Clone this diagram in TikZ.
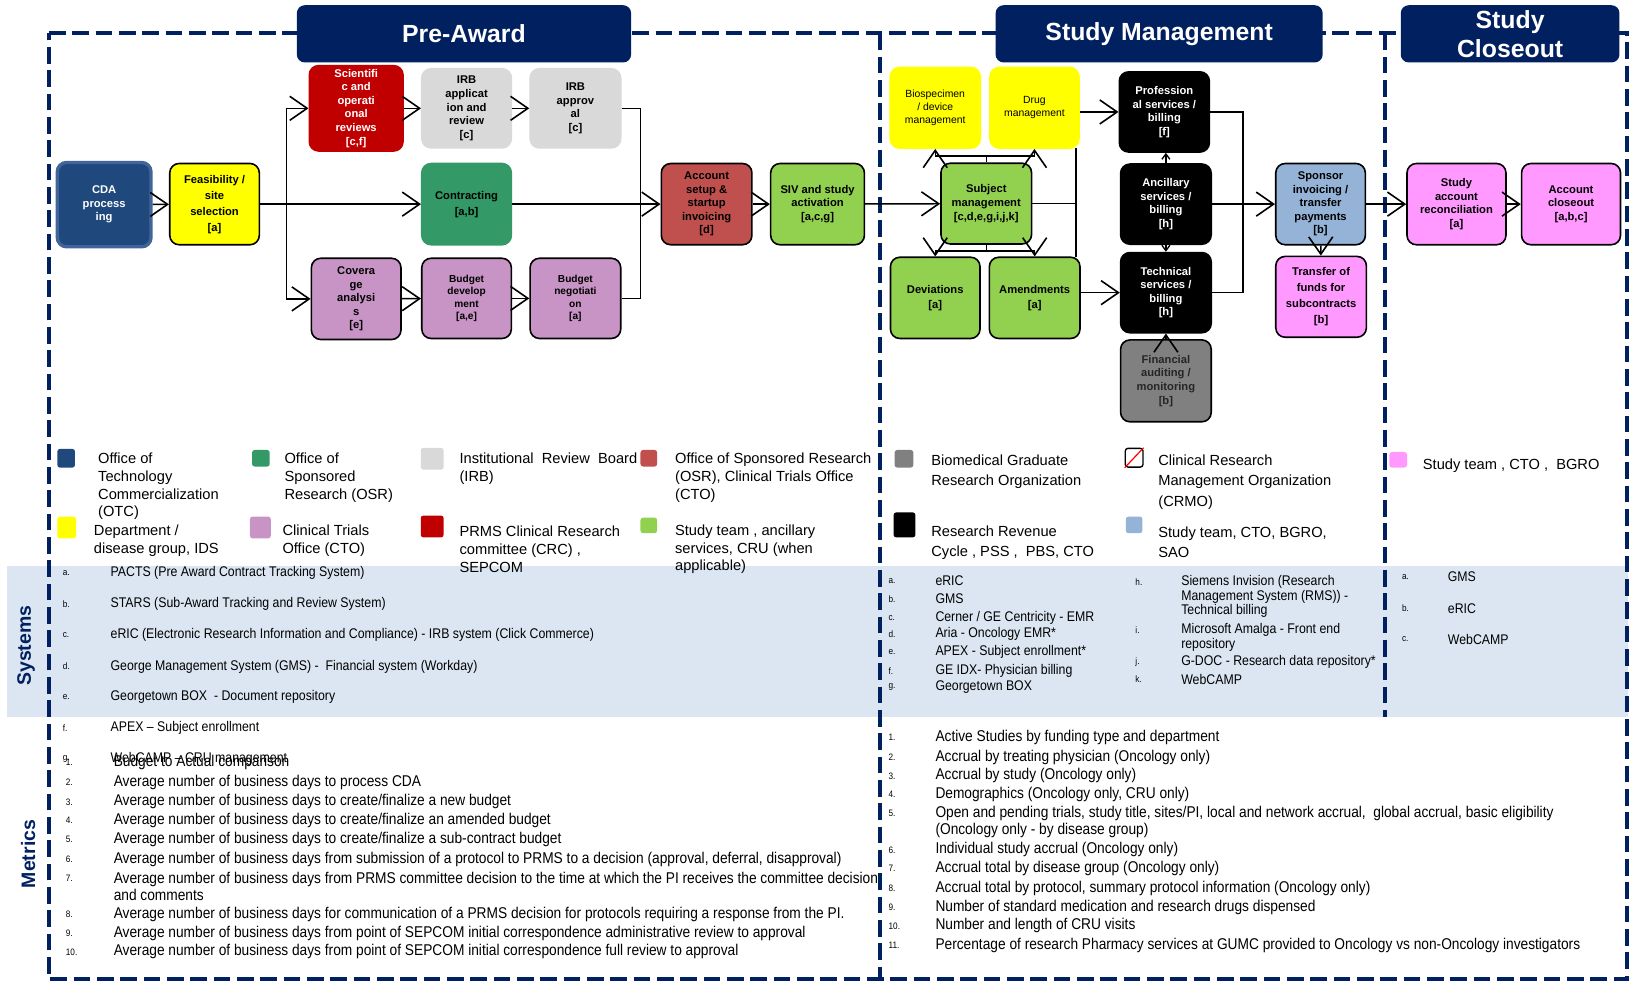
\documentclass[tikz,border=0pt]{standalone}
\usepackage{fontspec}
\setmainfont{Liberation Sans}
\newfontfamily\narrowfont[FakeStretch=0.88]{Liberation Sans}
\usetikzlibrary{arrows.meta}
\definecolor{navy}{HTML}{002060}
\definecolor{cdablue}{HTML}{1F497D}
\definecolor{cdaborder}{HTML}{41659A}
\definecolor{yel}{HTML}{FFFF00}
\definecolor{scired}{HTML}{C00000}
\definecolor{irbgray}{HTML}{D9D9D9}
\definecolor{osrgreen}{HTML}{339966}
\definecolor{lilac}{HTML}{C894C6}
\definecolor{acctred}{HTML}{C0504D}
\definecolor{lgreen}{HTML}{92D050}
\definecolor{fingray}{HTML}{808080}
\definecolor{sponsblue}{HTML}{95B3D7}
\definecolor{pinkbox}{HTML}{FF99FF}
\definecolor{bandblue}{HTML}{DCE6F2}
\newcommand\boxfont{\fontsize{8.4}{10.15}\selectfont\bfseries}
\newcommand\boxfontwide{\fontsize{8.4}{12}\selectfont\bfseries}
\newcommand\smallboxfont{\fontsize{7.6}{9.4}\selectfont\bfseries}
\newcommand\lightboxfont{\fontsize{7.8}{9.8}\selectfont}
\tikzset{
  wh/.style 2 args={minimum width=#1*0.78109pt,minimum height=#2*0.78109pt},
  box/.style={draw=black,line width=1.2pt,rounded corners=7pt,align=center,inner sep=1pt,font=\boxfont},
  banner/.style={fill=navy,rounded corners=6pt,text=white,font=\fontsize{18.6}{21.9}\selectfont\bfseries,align=center,inner sep=0pt},
  frame/.style={draw=navy,line width=3.2pt,dash pattern=on 12.5pt off 5pt},
  conn/.style={line width=1.1pt},
  arr/.style={line width=1.1pt,-{Straight Barb[length=13pt,width=18pt,line width=1.2pt]}},
  sarr/.style={line width=1pt,-{Straight Barb[length=4pt,width=6pt,line width=1pt]}},
  lsq/.style={rounded corners=2pt,inner sep=0pt},
  legt/.style={anchor=west,inner sep=0pt,align=left,font=\fontsize{11}{13.3}\selectfont},
  legr/.style={anchor=west,inner sep=0pt,align=left,font=\fontsize{11}{15.2}\selectfont},
  lett/.style={anchor=west,inner sep=0pt,font=\narrowfont\fontsize{7}{8}\selectfont},
  sysit/.style={anchor=west,inner sep=0pt,align=left,font=\narrowfont\fontsize{10.5}{10.9}\selectfont},
  metit/.style={anchor=west,inner sep=0pt,align=left,font=\narrowfont\fontsize{11.7}{12.5}\selectfont},
  side/.style={rotate=90,text=navy,inner sep=0pt,font=\fontsize{14.6}{16}\selectfont\bfseries}
}
\begin{document}
\begin{tikzpicture}[x=0.78109pt,y=-0.78109pt]
\useasboundingbox (0,0) rectangle (1568,944);
% systems band
\fill[bandblue] (7,543) rectangle (1563,688);
% dashed frame
\draw[frame] (47,32) -- (1562,32) -- (1562,940) -- (47,940) -- cycle;
\draw[frame] (845,32) -- (845,940);
\draw[frame] (1330,32) -- (1330,688);
% banners
\node[banner,wh={321}{55}] (bpre) at (445.5,32.5) {Pre-Award};
\node[banner,wh={314}{55}] (bsm) at (1113,32.5) {Study Management};
\node[banner,wh={210}{55}] (bsc) at (1450,32.5) {Study\\Closeout};

% ---------- Pre-Award nodes
\node[box,fill=cdablue,draw=cdaborder,line width=2.5pt,text=white,wh={90}{81}] (cda) at (100,196.5) {CDA\\process\\ing};
\node[box,fill=yel,font=\boxfontwide,wh={86}{78}] (feas) at (206,196) {Feasibility /\\site\\selection\\{}[a]};
\node[box,fill=scired,draw=scired,text=white,wh={90}{82}] (sci) at (342,104) {Scientifi\\c and\\operati\\onal\\reviews\\{}[c,f]};
\node[box,fill=irbgray,draw=irbgray,wh={86}{76}] (irbapp) at (448,104) {IRB\\applicat\\ion and\\review\\{}[c]};
\node[box,fill=irbgray,draw=irbgray,wh={87}{76}] (irbappr) at (552.5,104) {IRB\\approv\\al\\{}[c]};
\node[box,fill=osrgreen,draw=osrgreen,font=\boxfontwide,wh={86}{78}] (contr) at (448,196) {Contracting\\{}[a,b]};
\node[box,fill=lilac,wh={86}{78}] (cov) at (342,287) {Covera\\ge\\analysi\\s\\{}[e]};
\node[box,fill=lilac,font=\smallboxfont,wh={86}{77}] (bdev) at (448,286.5) {Budget\\develop\\ment\\{}[a,e]};
\node[box,fill=lilac,font=\smallboxfont,wh={87}{77}] (bneg) at (552.5,286.5) {Budget\\negotiati\\on\\{}[a]};
\node[box,fill=acctred,wh={87}{78}] (acct) at (678.5,196) {Account\\setup \&\\startup\\invoicing\\{}[d]};
\node[box,fill=lgreen,wh={90}{78}] (siv) at (785,196) {SIV and study\\activation\\{}[a,c,g]};

% ---------- Study management nodes
\node[box,fill=yel,draw=yel,font=\lightboxfont,wh={86.5}{77.5}] (bio) at (898,103.5) {Biospecimen\\/ device\\management};
\node[box,fill=yel,draw=yel,font=\lightboxfont,wh={85.5}{77.5}] (drug) at (993.3,103.5) {Drug\\management};
\node[box,fill=lgreen,wh={87}{77.5}] (subj) at (947,195.5) {Subject\\management\\{}[c,d,e,g,i,j,k]};
\node[box,fill=lgreen,font=\fontsize{8.4}{11}\selectfont\bfseries,wh={86}{78}] (dev) at (898,286) {Deviations\\{}[a]};
\node[box,fill=lgreen,font=\fontsize{8.4}{11}\selectfont\bfseries,wh={87}{78}] (amend) at (993.5,286) {Amendments\\{}[a]};
\node[box,fill=black,text=white,wh={86.5}{77}] (prof) at (1118,107.5) {Profession\\al services /\\billing\\{}[f]};
\node[box,fill=black,text=white,wh={87}{77}] (anc) at (1119.5,196) {Ancillary\\services /\\billing\\{}[h]};
\node[box,fill=black,text=white,wh={87}{77}] (tech) at (1119.5,281) {Technical\\services /\\billing\\{}[h]};
\node[box,fill=fingray,text=black!85,wh={87}{78.6}] (fin) at (1119.5,365.7) {Financial\\auditing /\\monitoring\\{}[b]};
\node[box,fill=sponsblue,wh={86}{78}] (spons) at (1268,196) {Sponsor\\invoicing /\\transfer\\payments\\{}[b]};
\node[box,fill=pinkbox,font=\boxfontwide,wh={87}{77.6}] (transf) at (1268.5,285) {Transfer of\\funds for\\subcontracts\\{}[b]};

% ---------- Closeout nodes
\node[box,fill=pinkbox,wh={95}{78}] (recon) at (1398.5,196) {Study\\account\\reconciliation\\{}[a]};
\node[box,fill=pinkbox,wh={95}{78}] (close) at (1508.5,196) {Account\\closeout\\{}[a,b,c]};

% ---------- connectors
\coordinate (j1) at (275,196);
\coordinate (j2) at (615,196);
\draw[arr] (cda) -- (feas);
\draw[arr] (feas) -- (contr);
\draw[arr] (j1) |- (sci.west);
\draw[arr] (j1) |- (cov.west);
\draw[arr] (sci) -- (irbapp);
\draw[arr] (irbapp) -- (irbappr);
\draw[arr] (cov) -- (bdev);
\draw[arr] (bdev) -- (bneg);
\draw[conn] (irbappr.east) -| (j2);
\draw[conn] (bneg.east) -| (j2);
\draw[arr] (contr) -- (acct);
\draw[arr] (acct) -- (siv);
\draw[arr] (siv) -- (subj);
\coordinate (tn) at (947,150);
\coordinate (bn) at (947,241);
\draw[conn] (subj.north) -- (tn);
\draw[arr] (tn) -| (bio.south);
\draw[arr] (tn) -| (drug.south);
\draw[conn] (subj.south) -- (bn);
\draw[arr] (bn) -| (dev.north);
\draw[arr] (bn) -| (amend.north);
\coordinate (bus1) at (1033,142);
\coordinate (bus2) at (1033,247);
\draw[conn] (bus1) -- (bus2);
\draw[conn] (subj.east) -- (subj.east -| bus1);
\draw[arr] (prof.west -| drug.east) -- (prof.west);
\draw[arr] (tech.west -| amend.east) -- (tech.west);
\coordinate (rb) at (1193.5,196);
\draw[conn] (prof.east) -| (rb);
\draw[conn] (tech.east) -| (rb);
\draw[arr] (anc) -- (spons);
\draw[sarr] (anc.north) -- (anc.north |- prof.south);
\draw[sarr] (anc.south) -- (anc.south |- tech.north);
\draw[arr] (fin) -- (tech);
\draw[arr] (spons) -- (transf);
\draw[arr] (spons) -- (recon);
\draw[arr] (recon) -- (close);

% ---------- legend
\node[lsq,fill=cdablue,wh={17}{18}] (sq1) at (63.5,440) {};
\node[legt] (lt1) at (94,467) {Office of\\Technology\\Commercialization\\(OTC)};
\node[lsq,fill=osrgreen,wh={17}{16}] (sq2) at (250.5,440) {};
\node[legt] (lt2) at (273,458.5) {Office of\\Sponsored\\Research (OSR)};
\node[lsq,fill=irbgray,wh={22}{21}] (sq3) at (415,440.5) {};
\node[legt] (lt3) at (441,450) {Institutional\ \ Review\ \ Board\\(IRB)};
\node[lsq,fill=acctred,wh={16}{16}] (sq4) at (623,440) {};
\node[legt] (lt4) at (648,458.5) {Office of Sponsored Research\\(OSR), Clinical Trials Office\\(CTO)};
\node[lsq,fill=fingray,wh={18}{17}] (sq5) at (868,440.5) {};
\node[legr] (lt5) at (894,453) {Biomedical Graduate\\Research Organization};
\node[lsq,draw=black,line width=1pt,fill=white,wh={17}{18}] (sq6) at (1089,439.5) {};
\draw[red,line width=0.9pt] (sq6.south west) -- (sq6.north east);
\node[legr] (lt6) at (1112,463) {Clinical Research\\Management Organization\\(CRMO)};
\node[lsq,fill=pinkbox,wh={17}{15}] (sq7) at (1342.5,441.5) {};
\node[legr] (lt7) at (1366,447.5) {Study team , CTO ,\ \ BGRO};
\node[lsq,fill=yel,wh={18}{21}] (sq8) at (64,506.5) {};
\node[legt] (lt8) at (90,519) {Department /\\disease group, IDS};
\node[lsq,fill=lilac,wh={20}{21}] (sq9) at (250,506.5) {};
\node[legt] (lt9) at (271,519) {Clinical Trials\\Office (CTO)};
\node[lsq,fill=scired,wh={22}{21}] (sq10) at (415,505.5) {};
\node[legt] (lt10) at (441,527.5) {PRMS Clinical Research\\committee (CRC) ,\\SEPCOM};
\node[lsq,fill=lgreen,wh={16}{15}] (sq11) at (623,504.5) {};
\node[legt] (lt11) at (648,527.5) {Study team , ancillary\\services, CRU (when\\applicable)};
\node[lsq,fill=black,wh={21}{24}] (sq12) at (868.5,504) {};
\node[legr] (lt12) at (894,521) {Research Revenue\\Cycle , PSS ,\ \ PBS, CTO};
\node[lsq,fill=sponsblue,wh={16}{16}] (sq13) at (1089,504) {};
\node[legr] (lt13) at (1112,521) {Study team, CTO, BGRO,\\SAO};

% ---------- side labels
\node[side] (lsys) at (25,620) {Systems};
\node[side] (lmet) at (27,820) {Metrics};

% ---------- systems, pre-award
\node[lett] (sa) at (60,550) {a.};
\node[sysit] (sat) at (106,550) {PACTS (Pre Award Contract Tracking System)};
\node[lett] (sb) at (60,580) {b.};
\node[sysit] (sbt) at (106,580) {STARS (Sub-Award Tracking and Review System)};
\node[lett] (sc) at (60,610) {c.};
\node[sysit] (sct) at (106,610) {eRIC (Electronic Research Information and Compliance) - IRB system (Click Commerce)};
\node[lett] (sd) at (60,640) {d.};
\node[sysit] (sdt) at (106,640) {George Management System (GMS) -\ \ Financial system (Workday)};
\node[lett] (se) at (60,669) {e.};
\node[sysit] (set) at (106,669) {Georgetown BOX\ \ - Document repository};
\node[lett] (sf) at (60,699) {f.};
\node[sysit] (sft) at (106,699) {APEX – Subject enrollment};
\node[lett] (sg) at (60,729) {g.};
\node[sysit] (sgt) at (106,729) {WebCAMP – CRU management};

% ---------- metrics, pre-award
\node[lett] (m1) at (63,732) {1.};
\node[metit] (m1t) at (109,732) {Budget to Actual comparison};
\node[lett] (m2) at (63,751) {2.};
\node[metit] (m2t) at (109,751) {Average number of business days to process CDA};
\node[lett] (m3) at (63,770) {3.};
\node[metit] (m3t) at (109,770) {Average number of business days to create/finalize a new budget};
\node[lett] (m4) at (63,788) {4.};
\node[metit] (m4t) at (109,788) {Average number of business days to create/finalize an amended budget};
\node[lett] (m5) at (63,806) {5.};
\node[metit] (m5t) at (109,806) {Average number of business days to create/finalize a sub-contract budget};
\node[lett] (m6) at (63,825) {6.};
\node[metit] (m6t) at (109,825) {Average number of business days from submission of a protocol to PRMS to a decision (approval, deferral, disapproval)};
\node[lett] (m7) at (63,843) {7.};
\node[metit] (m7t) at (109,851) {Average number of business days from PRMS committee decision to the time at which the PI receives the committee decision\\and comments};
\node[lett] (m8) at (63,878) {8.};
\node[metit] (m8t) at (109,878) {Average number of business days for communication of a PRMS decision for protocols requiring a response from the PI.};
\node[lett] (m9) at (63,896) {9.};
\node[metit] (m9t) at (109,896) {Average number of business days from point of SEPCOM initial correspondence administrative review to approval};
\node[lett] (m10) at (63,914) {10.};
\node[metit] (m10t) at (109,914) {Average number of business days from point of SEPCOM initial correspondence full review to approval};

% ---------- systems, study management
\node[lett] (ra) at (853,558) {a.};
\node[sysit] (rat) at (898,558) {eRIC};
\node[lett] (rb1) at (853,575) {b.};
\node[sysit] (rbt) at (898,575) {GMS};
\node[lett] (rc) at (853,593) {c.};
\node[sysit] (rct) at (898,593) {Cerner / GE Centricity - EMR};
\node[lett] (rd) at (853,609) {d.};
\node[sysit] (rdt) at (898,609) {Aria - Oncology EMR*};
\node[lett] (re) at (853,626) {e.};
\node[sysit] (ret) at (898,626) {APEX - Subject enrollment*};
\node[lett] (rf) at (853,644) {f.};
\node[sysit] (rft) at (898,644) {GE IDX- Physician billing};
\node[lett] (rg) at (853,660) {g.};
\node[sysit] (rgt) at (898,660) {Georgetown BOX};
\node[lett] (rh) at (1090,559) {h.};
\node[sysit] (rht) at (1134,573) {Siemens Invision (Research\\Management System (RMS)) -\\Technical billing};
\node[lett] (ri) at (1090,605) {i.};
\node[sysit] (rit) at (1134,612) {Microsoft Amalga - Front end\\repository};
\node[lett] (rj) at (1090,636) {j.};
\node[sysit] (rjt) at (1134,636) {G-DOC - Research data repository*};
\node[lett] (rk) at (1090,652) {k.};
\node[sysit] (rkt) at (1134,652) {WebCAMP};

% ---------- systems, closeout
\node[lett] (ca) at (1346,554) {a.};
\node[sysit] (cat) at (1390,554) {GMS};
\node[lett] (cb) at (1346,584) {b.};
\node[sysit] (cbt) at (1390,584) {eRIC};
\node[lett] (cc) at (1346,614) {c.};
\node[sysit] (cct) at (1390,614) {WebCAMP};

% ---------- metrics, study management
\node[lett] (n1) at (853,708) {1.};
\node[metit] (n1t) at (898,708) {Active Studies by funding type and department};
\node[lett] (n2) at (853,727) {2.};
\node[metit] (n2t) at (898,727) {Accrual by treating physician (Oncology only)};
\node[lett] (n3) at (853,745) {3.};
\node[metit] (n3t) at (898,745) {Accrual by study (Oncology only)};
\node[lett] (n4) at (853,763) {4.};
\node[metit] (n4t) at (898,763) {Demographics (Oncology only, CRU only)};
\node[lett] (n5) at (853,781) {5.};
\node[metit] (n5t) at (898,789) {Open and pending trials, study title, sites/PI, local and network accrual,\ \ global accrual, basic eligibility\\(Oncology only - by disease group)};
\node[lett] (n6) at (853,816) {6.};
\node[metit] (n6t) at (898,816) {Individual study accrual (Oncology only)};
\node[lett] (n7) at (853,834) {7.};
\node[metit] (n7t) at (898,834) {Accrual total by disease group (Oncology only)};
\node[lett] (n8) at (853,853) {8.};
\node[metit] (n8t) at (898,853) {Accrual total by protocol, summary protocol information (Oncology only)};
\node[lett] (n9) at (853,871) {9.};
\node[metit] (n9t) at (898,871) {Number of standard medication and research drugs dispensed};
\node[lett] (n10) at (853,889) {10.};
\node[metit] (n10t) at (898,889) {Number and length of CRU visits};
\node[lett] (n11) at (853,908) {11.};
\node[metit] (n11t) at (898,908) {Percentage of research Pharmacy services at GUMC provided to Oncology vs non-Oncology investigators};
\end{tikzpicture}
\end{document}
